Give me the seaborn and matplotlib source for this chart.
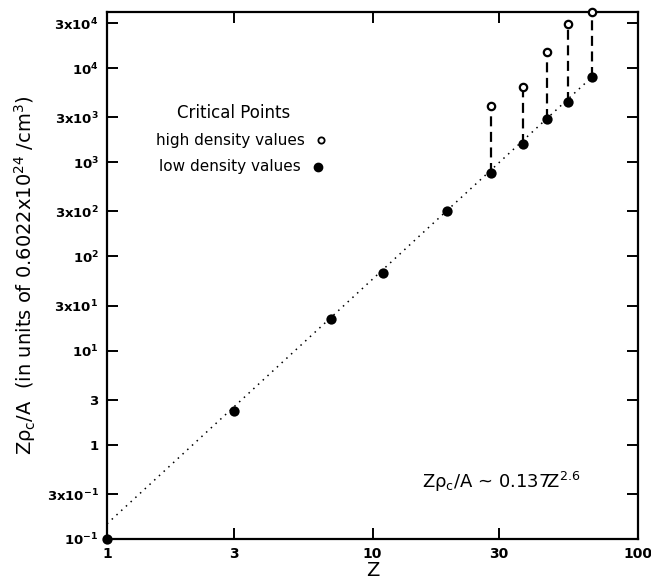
import pandas as pd
import numpy as np
from matplotlib import pyplot as plt
import seaborn as sns

# critical points
z_low = [1, 3, 7, 11, 19, 28, 37, 45.5, 54.5, 67]
rho_low = [0.1, 2.3, 21.6, 67, 300, 770, 1560, 2880, 4360, 8000]
z_high = [28, 37, 45.5, 54.5, 67]
rho_high = [3950, 6300, 14800, 29300, 39300]

# end points of the dotted fit line
fit_z = [1, 67]
fit_rho = [0.145, 8000]

xticks = [1, 3, 10, 30, 100]
yticks = [0.1, 0.3, 1, 3, 10, 30, 100, 300, 1000, 3000, 1e4, 3e4]
ytick_labels = ['10$^{-1}$', '3x10$^{-1}$', '1', '3', '10$^{1}$', '3x10$^{1}$',
                '10$^{2}$', '3x10$^{2}$', '10$^{3}$', '3x10$^{3}$',
                '10$^{4}$', '3x10$^{4}$']

H = 581


def main():
    sns.set_style('ticks')
    plt.rcParams['font.family'] = ['DejaVu Sans']
    plt.rcParams['mathtext.default'] = 'regular'
    for k in ['text.color', 'axes.labelcolor', 'xtick.color', 'ytick.color',
              'axes.edgecolor']:
        plt.rcParams[k] = 'black'

    low = pd.DataFrame({'Z': z_low, 'rho': rho_low})
    high = pd.DataFrame({'Z': z_high, 'rho': rho_high})
    fit = pd.DataFrame({'Z': fit_z, 'rho': fit_rho})

    fig = plt.figure(figsize=(6.51, 5.81), dpi=100)
    ax = fig.add_axes([0.1644, 0.0723, 0.8156, 0.907])
    ax.set_xscale('log')
    ax.set_yscale('log')

    sns.lineplot(data=fit, x='Z', y='rho', ax=ax, color='black',
                 linestyle=(0, (1, 3.2)), lw=1.1)
    # dashed connectors between low and high density values
    ax.vlines(z_high, [r for z, r in zip(z_low, rho_low) if z in z_high],
              rho_high, colors='black', lw=1.6, linestyles=(0, (4.5, 2.5)))
    sns.scatterplot(data=low, x='Z', y='rho', ax=ax, color='black', s=55,
                    edgecolor='black', linewidth=0, clip_on=False, zorder=5)
    sns.scatterplot(data=high, x='Z', y='rho', ax=ax, facecolor='white',
                    edgecolor='black', s=28, linewidth=1.6, clip_on=False,
                    zorder=5)

    ax.set_xlim(1, 100)
    ax.set_ylim(0.1, 3.93e4)
    ax.set_xticks(xticks)
    ax.set_xticklabels([str(t) for t in xticks], fontsize=10, fontweight='bold')
    ax.set_yticks(yticks)
    ax.set_yticklabels(ytick_labels, fontsize=9.5, fontweight='bold')
    ax.minorticks_off()
    ax.tick_params(direction='in', length=8, width=1.4, top=True, right=True,
                   pad=6)
    for s in ax.spines.values():
        s.set_linewidth(1.6)

    ax.set_xlabel('Z', fontsize=14, labelpad=0)
    ax.set_ylabel(r'Z$\rho_{c}$/A  (in units of 0.6022x10$^{24}$ /cm$^{3}$)',
                  fontsize=14, labelpad=6)

    ax.text(234, H - 113, 'Critical Points', transform=None, fontsize=12,
            ha='center', va='center')
    ax.text(156, H - 140, 'high density values', fontsize=11, ha='left',
            va='center', transform=None)
    ax.text(159, H - 167, 'low density values', fontsize=11, ha='left',
            va='center', transform=None)
    ax.text(422, H - 482, r'Z$\rho_{c}$/A ~ 0.137Z$^{2.6}$', fontsize=13,
            ha='left', va='center', transform=None)

    def fig_pt(x, y):
        return fig.transFigure.inverted().transform((x, H - y))

    hx, hy = fig_pt(321, 140)
    fig.lines.append(plt.Line2D([hx], [hy], marker='o', ms=4.5, mfc='white',
                                mec='black', mew=1.3, transform=fig.transFigure))
    lx, ly = fig_pt(318, 167)
    fig.lines.append(plt.Line2D([lx], [ly], marker='o', ms=6, mfc='black',
                                mec='black', transform=fig.transFigure))

    plt.savefig('out.png', dpi=100)


if __name__ == '__main__':
    main()
